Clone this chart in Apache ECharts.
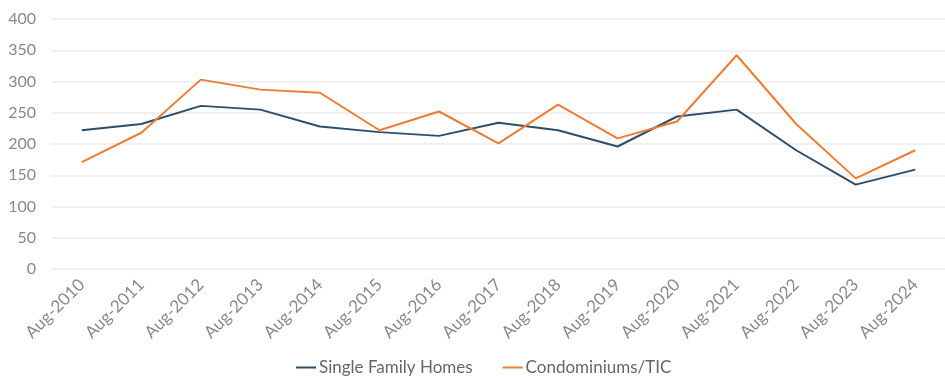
<!DOCTYPE html>
<html>
<head>
<meta charset="utf-8">
<title>Sales</title>
<script src="https://cdn.jsdelivr.net/npm/echarts@6/dist/echarts.min.js"></script>
<style>
  html, body { margin: 0; padding: 0; background: #fff; }
  #main { width: 945px; height: 377px; }
</style>
</head>
<body>
<div id="main"></div>
<script>
var categories = ['Aug-2010', 'Aug-2011', 'Aug-2012', 'Aug-2013', 'Aug-2014', 'Aug-2015', 'Aug-2016',
  'Aug-2017', 'Aug-2018', 'Aug-2019', 'Aug-2020', 'Aug-2021', 'Aug-2022', 'Aug-2023', 'Aug-2024'];
var singleFamily = [222, 232, 261, 255, 228, 219, 213, 234, 222, 196, 244, 255, 190, 135, 159];
var condos = [171, 218, 303, 287, 282, 222, 252, 201, 263, 209, 236, 342, 232, 145, 190];

var chart = echarts.init(document.getElementById('main'));
var font = 'Lato';

chart.setOption({
  animation: false,
  color: ['#2f4d6b', '#ed7d31'],
  grid: { left: 52, right: 0, top: 19, bottom: 108 },
  legend: {
    bottom: 1,
    left: 296,
    padding: 0,
    itemWidth: 20,
    itemHeight: 2,
    itemGap: 30,
    icon: 'rect',
    textStyle: { fontFamily: font, fontSize: 17, color: '#666', padding: [0, 0, 0, -2] },
    data: ['Single Family Homes', 'Condominiums/TIC']
  },
  xAxis: {
    type: 'category',
    data: categories,
    boundaryGap: true,
    axisLine: { show: false },
    axisTick: { show: false },
    axisLabel: { rotate: 45, margin: 13, fontFamily: font, fontSize: 17, color: '#8a8a8a' }
  },
  yAxis: {
    type: 'value',
    min: 0,
    max: 400,
    interval: 50,
    axisLine: { show: false },
    axisTick: { show: false },
    axisLabel: { margin: 16, fontFamily: font, fontSize: 16, color: '#888' },
    splitLine: { lineStyle: { color: '#ebebeb', width: 1.5 } }
  },
  series: [
    {
      name: 'Single Family Homes',
      type: 'line',
      data: singleFamily,
      symbol: 'none',
      lineStyle: { width: 2 }
    },
    {
      name: 'Condominiums/TIC',
      type: 'line',
      data: condos,
      symbol: 'none',
      lineStyle: { width: 2 }
    }
  ]
});
</script>
</body>
</html>
